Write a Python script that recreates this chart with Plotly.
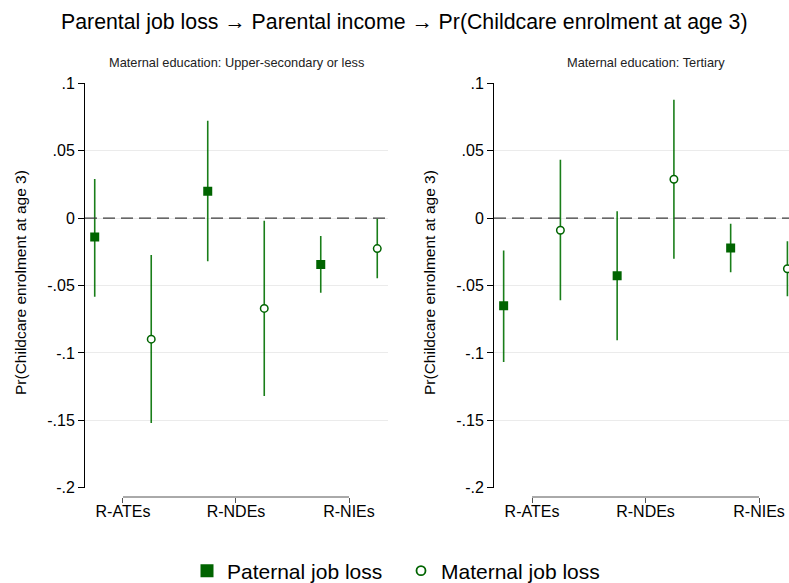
import numpy as np
import plotly.graph_objects as go

# ---------------- data ----------------
categories = ["R-ATEs", "R-NDEs", "R-NIEs"]
panel_titles = ["Maternal education: Upper-secondary or less",
                "Maternal education: Tertiary"]
series_names = ["Paternal job loss", "Maternal job loss"]

# Panel 1: upper-secondary or less
low_pat_est = [-0.014, 0.020, -0.0344]
low_pat_lo = [-0.0584, -0.032, -0.0554]
low_pat_hi = [0.029, 0.0722, -0.0132]
low_mat_est = [-0.0898, -0.067, -0.0226]
low_mat_lo = [-0.152, -0.132, -0.0446]
low_mat_hi = [-0.0273, -0.0019, -0.0004]

# Panel 2: tertiary
ter_pat_est = [-0.065, -0.0428, -0.0221]
ter_pat_lo = [-0.1068, -0.0907, -0.0401]
ter_pat_hi = [-0.024, 0.005, -0.0041]
ter_mat_est = [-0.009, 0.0288, -0.0376]
ter_mat_lo = [-0.061, -0.0302, -0.058]
ter_mat_hi = [0.0433, 0.0878, -0.0172]

y_ticks = [-0.2, -0.15, -0.1, -0.05, 0, 0.05, 0.1]
y_ticktext = ["-.2", "-.15", "-.1", "-.05", "0", ".05", ".1"]
y_title = "Pr(Childcare enrolment at age 3)"
main_title = "Parental job loss \u2192 Parental income \u2192 Pr(Childcare enrolment at age 3)"

# ---------------- style ----------------
FONT = "Liberation Sans, Arial, sans-serif"
GREEN = "#006400"
CI_COL = "rgba(0,112,0,0.9)"
W, H = 789, 583

panels = [
    dict(pat=(low_pat_est, low_pat_lo, low_pat_hi), mat=(low_mat_est, low_mat_lo, low_mat_hi),
         xdom=[85 / W, 388 / W], xr=[0.664, 3.345]),
    dict(pat=(ter_pat_est, ter_pat_lo, ter_pat_hi), mat=(ter_mat_est, ter_mat_lo, ter_mat_hi),
         xdom=[494 / W, 1.0], xr=[0.665, 3.264]),
]
ydom = [1 - 487.7 / H, 1 - 83.3 / H]
xaxis_pos = 1 - 497 / H

pos = np.arange(1, len(categories) + 1)
offset = 0.25

fig = go.Figure()

for i, p in enumerate(panels):
    xa = "x" if i == 0 else "x2"
    ya = "y" if i == 0 else "y2"
    for key, dx, sym, size, fill in [("pat", -offset, "square", 9, GREEN),
                                     ("mat", offset, "circle", 7.5, "white")]:
        est, lo, hi = (np.array(v) for v in p[key])
        fig.add_trace(go.Scatter(
            x=pos + dx, y=est, mode="markers", xaxis=xa, yaxis=ya,
            showlegend=False, hoverinfo="skip",
            marker=dict(symbol=sym, size=size, color=fill,
                        line=dict(color=GREEN, width=1.5 if key == "mat" else 0)),
            error_y=dict(type="data", symmetric=False, array=hi - est,
                         arrayminus=est - lo, width=0, thickness=1.6, color=CI_COL),
        ))

# legend-only traces
fig.add_trace(go.Scatter(x=[None], y=[None], mode="markers", name=series_names[0],
                         marker=dict(symbol="square", size=13, color=GREEN)))
fig.add_trace(go.Scatter(x=[None], y=[None], mode="markers", name=series_names[1],
                         marker=dict(symbol="circle", size=9, color="white",
                                     line=dict(color=GREEN, width=1.8))))

axis_common_y = dict(range=[-0.2, 0.1], tickvals=y_ticks, ticktext=y_ticktext,
                     showline=True, linecolor="black", linewidth=1, ticks="outside",
                     ticklen=6, tickcolor="black", showgrid=True, gridcolor="#ebebeb",
                     gridwidth=1, zeroline=False, domain=ydom, automargin=False,
                     tickfont=dict(size=16, color="black", family=FONT))
axis_common_x = dict(tickvals=pos, ticktext=categories, showline=False, showgrid=False,
                     zeroline=False, ticks="outside", ticklen=5, tickcolor="#555555",
                     anchor="free", position=xaxis_pos, automargin=False,
                     ticklabelstandoff=-5,
                     tickfont=dict(size=16, color="black", family=FONT))

fig.update_layout(
    width=W, height=H, margin=dict(l=0, r=0, t=0, b=0, autoexpand=False),
    paper_bgcolor="white", plot_bgcolor="white",
    font=dict(family=FONT, color="black"),
    xaxis=dict(domain=panels[0]["xdom"], range=panels[0]["xr"], **axis_common_x),
    xaxis2=dict(domain=panels[1]["xdom"], range=panels[1]["xr"], **axis_common_x),
    yaxis=dict(anchor="x", **axis_common_y),
    yaxis2=dict(anchor="x2", **axis_common_y),
    legend=dict(orientation="h", x=187 / W, xanchor="left", y=1 - 571 / H, yanchor="middle",
                entrywidth=169, entrywidthmode="pixels",
                font=dict(size=21, family=FONT, color="black"), bgcolor="rgba(0,0,0,0)"),
    showlegend=True,
)

annotations = [dict(text=main_title, x=0.513, y=1 - 22 / H, xref="paper", yref="paper",
                    showarrow=False, font=dict(size=21.3, family=FONT, color="black"),
                    xanchor="center", yanchor="middle")]
shapes = []
for i, p in enumerate(panels):
    xa = "x" if i == 0 else "x2"
    ya = "y" if i == 0 else "y2"
    annotations.append(dict(text=panel_titles[i], x=(p["xdom"][0] * W + (303 / 2)) / W,
                            y=1 - 62.5 / H, xref="paper", yref="paper", showarrow=False,
                            font=dict(size=12.8, family=FONT, color="#222222"),
                            xanchor="center", yanchor="middle"))
    annotations.append(dict(text=y_title, x=(p["xdom"][0] * W - 65) / W, y=1 - 283 / H,
                            xref="paper", yref="paper", showarrow=False, textangle=-90,
                            font=dict(size=15.5, family=FONT, color="black"),
                            xanchor="center", yanchor="middle"))
    # dashed reference line at zero
    shapes.append(dict(type="line", xref=f"{xa} domain", yref=ya, x0=0, x1=1, y0=0, y1=0,
                       line=dict(color="#3c3c3c", width=1.4, dash="12px,6px")))
    # x-axis bracket spanning first to last category
    shapes.append(dict(type="line", xref=xa, yref="paper", x0=pos[0], x1=pos[-1],
                       y0=xaxis_pos, y1=xaxis_pos, line=dict(color="#555555", width=1)))

fig.update_layout(annotations=annotations, shapes=shapes)

fig.write_html("out.html", config={"displayModeBar": False},
               post_script="document.body.style.margin='0';document.body.style.overflow='hidden';")
